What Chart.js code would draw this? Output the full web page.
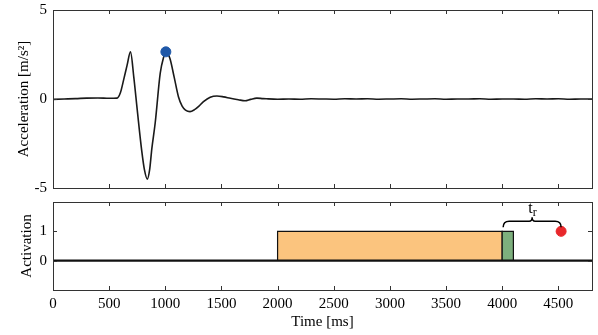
<!DOCTYPE html>
<html>
<head>
<meta charset="utf-8">
<script src="https://cdn.jsdelivr.net/npm/chart.js@4"></script>
<style>
  html, body { margin: 0; padding: 0; background: #fff; }
  #wrap { position: relative; width: 598px; height: 335px; }
  canvas { position: absolute; left: 0; }
</style>
</head>
<body>
<div id="wrap">
  <canvas id="accChart" width="598" height="196" style="top:0"></canvas>
  <canvas id="actChart" width="598" height="140" style="top:195px"></canvas>
</div>
<script>
/* DATA */

const accTime = [0, 100, 200, 300, 400, 500, 570, 600, 630, 660, 690, 720, 750, 790, 815, 840, 860, 880, 910, 955, 985, 1005, 1040, 1080, 1117, 1150, 1180, 1220, 1260, 1300, 1340, 1400, 1460, 1520, 1580, 1650, 1710, 1760, 1815, 1870,
  1900, 2000, 2100, 2200, 2300, 2400, 2500, 2600, 2700, 2800, 2900, 3000, 3100, 3200, 3300, 3400, 3500, 3600, 3700, 3800, 3900, 4000, 4100, 4200, 4300, 4400, 4500, 4600, 4700, 4800];
const accValue = [-0.02, 0.0, 0.02, 0.05, 0.06, 0.04, 0.05, 0.35, 1.1, 1.9, 2.65, 1.2, -0.6, -2.9, -4.0, -4.5, -4.0, -2.8, -1.35, 1.45, 2.35, 2.65, 2.3, 1.2, 0.13, -0.4, -0.62, -0.71, -0.6, -0.4, -0.15, 0.1, 0.17, 0.12, 0.04, -0.04, -0.1, -0.02, 0.05, 0.02,
  0.01, -0.01, 0.0, -0.01, 0.01, 0.0, -0.01, 0.01, 0.0, 0.01, -0.01, 0.0, 0.01, -0.01, 0.0, 0.01, -0.01, 0.0, 0.0, 0.01, -0.01, 0.0, 0.0, -0.01, 0.01, 0.0, 0.01, -0.01, 0.0, 0.0];

const peakPoint = [1005, 2.65];

const actTime = [0, 4800];
const actValue = [0, 0];

const goBox = [2000, 4000];
const stopBox = [4000, 4100];
const boxHeight = 1;

const responsePoint = [4525, 1];

const xTicks = [0, 500, 1000, 1500, 2000, 2500, 3000, 3500, 4000, 4500];
const accTicks = [-5, 0, 5];
const actTicks = [0, 1];

/* DEFAULTS */

Chart.defaults.font.family = "'Liberation Serif', 'Times New Roman', serif";
Chart.defaults.font.size = 15;
Chart.defaults.color = "#000";

/* BOX WITH INSIDE TICKS */

const boxTicks = {
  id: "boxTicks",
  afterDraw(chart) {
    const ctx = chart.ctx;
    const a = chart.chartArea;
    const len = 4;
    ctx.save();
    ctx.strokeStyle = "#333";
    ctx.lineWidth = 1;
    ctx.beginPath();
    chart.scales.x.ticks.forEach(t => {
      const px = Math.round(chart.scales.x.getPixelForValue(t.value)) + 0.5;
      ctx.moveTo(px, a.bottom);
      ctx.lineTo(px, a.bottom - len);
      ctx.moveTo(px, a.top);
      ctx.lineTo(px, a.top + len);
    });
    chart.scales.y.ticks.forEach(t => {
      const py = Math.round(chart.scales.y.getPixelForValue(t.value)) + 0.5;
      ctx.moveTo(a.left, py);
      ctx.lineTo(a.left + len, py);
      ctx.moveTo(a.right, py);
      ctx.lineTo(a.right - len, py);
    });
    ctx.stroke();
    ctx.strokeRect(Math.round(a.left) + 0.5, Math.round(a.top) + 0.5,
      Math.round(a.right - a.left), Math.round(a.bottom - a.top));
    ctx.restore();
  }
};

/* BRACKET FOR t_r */

const bracket = {
  id: "bracket",
  afterDraw(chart) {
    const xs = chart.scales.x;
    const ys = chart.scales.y;
    const ctx = chart.ctx;
    const x0 = xs.getPixelForValue(stopBox[0]) + 1;
    const x1 = xs.getPixelForValue(responsePoint[0]);
    const mid = (x0 + x1) / 2;
    const base = ys.getPixelForValue(responsePoint[1]) - 4;
    const bar = base - 6;
    ctx.save();
    ctx.strokeStyle = "#000";
    ctx.lineWidth = 1.5;
    ctx.beginPath();
    ctx.moveTo(x0, base);
    ctx.quadraticCurveTo(x0, bar, x0 + 6, bar);
    ctx.lineTo(mid - 3, bar);
    ctx.quadraticCurveTo(mid, bar, mid, bar - 4);
    ctx.quadraticCurveTo(mid, bar, mid + 3, bar);
    ctx.lineTo(x1 - 6, bar);
    ctx.quadraticCurveTo(x1, bar, x1, base);
    ctx.stroke();
    ctx.fillStyle = "#000";
    ctx.textBaseline = "alphabetic";
    ctx.font = "16px 'Liberation Serif', serif";
    ctx.fillText("t", mid - 4, bar - 8);
    ctx.font = "12px 'Liberation Serif', serif";
    ctx.fillText("r", mid + 0.5, bar - 5);
    ctx.restore();
  }
};

function pts(xs, ys) {
  return xs.map((x, i) => ({ x: x, y: ys[i] }));
}

function boxPts(box) {
  return [
    { x: box[0], y: 0 },
    { x: box[0], y: boxHeight },
    { x: box[1], y: boxHeight },
    { x: box[1], y: 0 }
  ];
}

function fixedTicks(list) {
  return scale => { scale.ticks = list.map(v => ({ value: v })); };
}

function fixY(s) {
  s.width = 53;
  s.paddingTop = 0;
  s.paddingBottom = 0;
}

/* ACCELERATION CHART */

new Chart(document.getElementById("accChart"), {
  type: "line",
  data: {
    datasets: [
      {
        type: "scatter",
        data: [{ x: peakPoint[0], y: peakPoint[1] }],
        backgroundColor: "#1f58a8",
        borderColor: "#1f58a8",
        pointRadius: 5,
        order: 0
      },
      {
        data: pts(accTime, accValue),
        borderColor: "#1a1a1a",
        borderWidth: 1.6,
        pointRadius: 0,
        fill: false,
        cubicInterpolationMode: "monotone",
        order: 1
      }
    ]
  },
  options: {
    responsive: false,
    animation: false,
    layout: { padding: { top: 10, bottom: 8, left: 0, right: 6 } },
    plugins: { legend: { display: false }, tooltip: { enabled: false } },
    scales: {
      x: {
        type: "linear",
        min: 0,
        max: 4800,
        afterBuildTicks: fixedTicks(xTicks),
        afterFit: s => { s.height = 0; s.paddingLeft = 0; s.paddingRight = 0; },
        ticks: { display: false },
        grid: { display: false },
        border: { display: false }
      },
      y: {
        min: -5,
        max: 5,
        afterBuildTicks: fixedTicks(accTicks),
        afterFit: fixY,
        ticks: { padding: 6, callback: v => String(v) },
        grid: { display: false, drawTicks: false },
        border: { display: false },
        title: {
          display: true,
          text: "Acceleration [m/s²]",
          padding: 15,
          font: { size: 15 }
        }
      }
    }
  },
  plugins: [boxTicks]
});

/* ACTIVATION CHART */

new Chart(document.getElementById("actChart"), {
  type: "line",
  data: {
    datasets: [
      {
        type: "scatter",
        data: [{ x: responsePoint[0], y: responsePoint[1] }],
        backgroundColor: "#e8282b",
        borderColor: "#e8282b",
        pointRadius: 5,
        order: 0
      },
      {
        data: pts(actTime, actValue),
        borderColor: "#111",
        borderWidth: 2.2,
        pointRadius: 0,
        fill: false,
        order: 1
      },
      {
        data: boxPts(stopBox),
        borderColor: "#111",
        borderWidth: 1.2,
        backgroundColor: "#7daf7d",
        pointRadius: 0,
        fill: "origin",
        order: 2
      },
      {
        data: boxPts(goBox),
        borderColor: "#111",
        borderWidth: 1.2,
        backgroundColor: "#fbc47e",
        pointRadius: 0,
        fill: "origin",
        order: 3
      }
    ]
  },
  options: {
    responsive: false,
    animation: false,
    layout: { padding: { top: 7, bottom: 0, left: 0, right: 6 } },
    plugins: { legend: { display: false }, tooltip: { enabled: false } },
    scales: {
      x: {
        type: "linear",
        min: 0,
        max: 4800,
        afterBuildTicks: fixedTicks(xTicks),
        afterFit: s => { s.height = 45; s.paddingLeft = 0; s.paddingRight = 0; },
        ticks: { padding: 5, maxRotation: 0, callback: v => String(v) },
        grid: { display: false, drawTicks: false },
        border: { display: false },
        title: {
          display: true,
          text: "Time [ms]",
          padding: 4,
          font: { size: 15 }
        }
      },
      y: {
        min: -1,
        max: 2,
        afterBuildTicks: fixedTicks(actTicks),
        afterFit: fixY,
        ticks: { padding: 6, callback: v => String(v) },
        grid: { display: false, drawTicks: false },
        border: { display: false },
        title: {
          display: true,
          text: "Activation",
          padding: 18,
          font: { size: 15 }
        }
      }
    }
  },
  plugins: [boxTicks, bracket]
});
</script>
</body>
</html>
